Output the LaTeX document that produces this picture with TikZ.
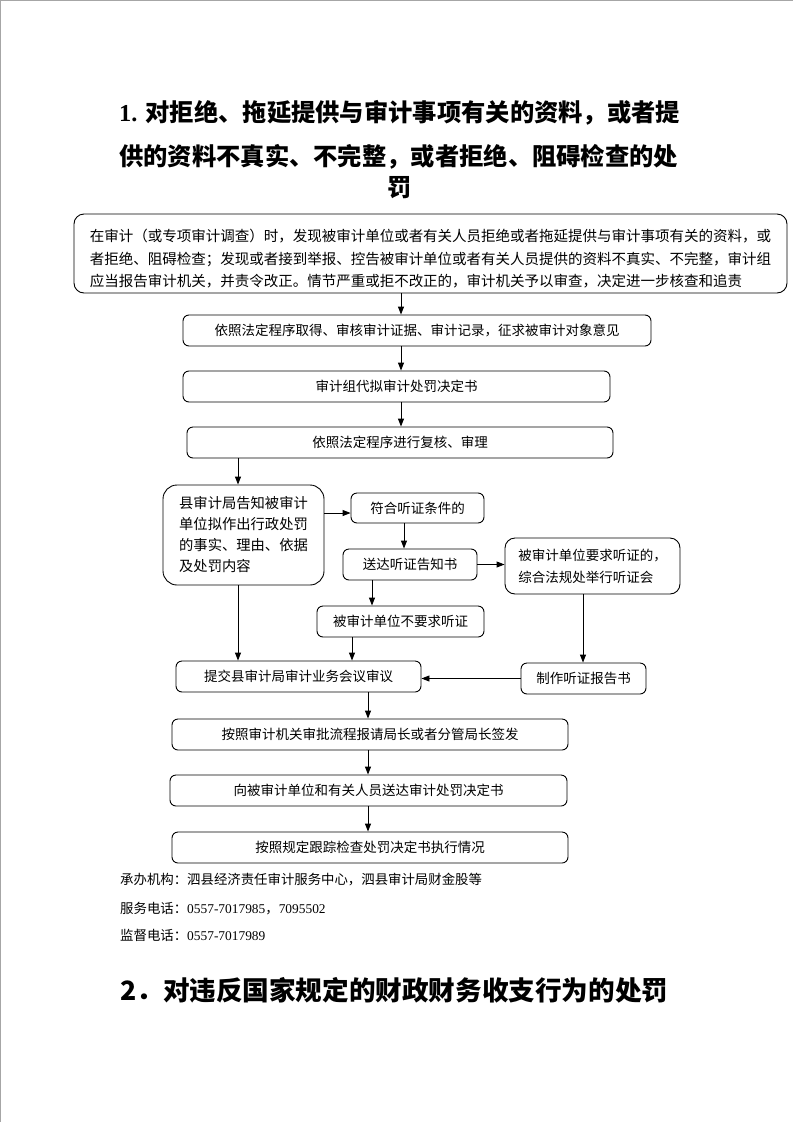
\documentclass[tikz,border=0pt]{standalone}
\usepackage{fontspec}
\setmainfont{Liberation Serif}
\newfontfamily\cjk{Noto Sans CJK SC}
\usetikzlibrary{arrows.meta}

\begin{document}
\begin{tikzpicture}[x=1pt,y=-1pt,
        box/.style={draw, line width=0.9pt, rounded corners=6pt, inner sep=0pt,
            font=\cjk\fontsize{13.5}{16}\selectfont},
        boxsize/.style 2 args={minimum width=#1pt, minimum height=#2pt},
        arr/.style={-{Triangle[length=8pt,width=6pt]}, line width=0.9pt},
        title/.style={anchor=west, inner sep=0pt, font=\fontsize{24.3}{28}\selectfont\bfseries},
        note/.style={anchor=west, inner sep=0pt, font=\fontsize{13.4}{16}\selectfont}]
    \useasboundingbox (0,0) rectangle (793,1122);
    \draw[gray!70, line width=1.2pt] (0.6,1122) -- (0.6,0.6) -- (793,0.6);

    % title
    \node[title] (t1) at (119,113) {1. {\cjk 对拒绝、拖延提供与审计事项有关的资料，或者提}};
    \node[title] (t2) at (119,157) {\cjk 供的资料不真实、不完整，或者拒绝、阻碍检查的处};
    \node[title, anchor=center] (t3) at (400,188) {\cjk 罚};

    % main column
    \node[box, rounded corners=10pt, boxsize={713}{79}] (b1) at (430.5,253.5) {};
    \node[inner sep=0pt, align=left, font=\cjk\fontsize{14.5}{22.5}\selectfont] (b1t) at (430.5,259)
        {在审计（或专项审计调查）时，发现被审计单位或者有关人员拒绝或者拖延提供与审计事项有关的资料，或\\
         者拒绝、阻碍检查；发现或者接到举报、控告被审计单位或者有关人员提供的资料不真实、不完整，审计组\\
         应当报告审计机关，并责令改正。情节严重或拒不改正的，审计机关予以审查，决定进一步核查和追责};
    \node[box, boxsize={468}{31}] (b2) at (417,330.5) {依照法定程序取得、审核审计证据、审计记录，征求被审计对象意见};
    \node[box, boxsize={427}{31}] (b3) at (396.5,386.5) {审计组代拟审计处罚决定书};
    \node[box, boxsize={426}{31}] (b4) at (400,442.5) {依照法定程序进行复核、审理};

    % hearing branch
    \node[box, rounded corners=14pt, boxsize={161}{100}, align=left,
        font=\cjk\fontsize{14.3}{21}\selectfont] (b5) at (243.5,535)
        {县审计局告知被审计\\单位拟作出行政处罚\\的事实、理由、依据\\及处罚内容};
    \node[box, boxsize={133}{30}] (b6) at (417.5,508) {符合听证条件的};
    \node[box, boxsize={134}{31}] (b7) at (410,564.5) {送达听证告知书};
    \node[box, rounded corners=10pt, boxsize={175}{56}, align=left,
        font=\cjk\fontsize{13.5}{22}\selectfont] (b8) at (592.5,566)
        {被审计单位要求听证的，\\综合法规处举行听证会};
    \node[box, boxsize={167}{31}] (b9) at (400.5,621.5) {被审计单位不要求听证};
    \node[box, boxsize={245}{31}] (b10) at (298.5,676.5) {提交县审计局审计业务会议审议};
    \node[box, boxsize={125}{31}] (b11) at (583.5,678.5) {制作听证报告书};

    % lower column
    \node[box, boxsize={396}{31}] (b12) at (370,734.5) {按照审计机关审批流程报请局长或者分管局长签发};
    \node[box, boxsize={397}{31}] (b13) at (368.5,790.5) {向被审计单位和有关人员送达审计处罚决定书};
    \node[box, boxsize={396}{31}] (b14) at (370,847.5) {按照规定跟踪检查处罚决定书执行情况};

    % connector columns
    \coordinate (xm) at (401,0);
    \coordinate (xl) at (238,0);
    \coordinate (xc) at (404,0);
    \coordinate (xn) at (372,0);
    \coordinate (xs) at (352,0);
    \coordinate (xr) at (583,0);
    \coordinate (xb) at (368,0);
    \coordinate (ya) at (0,513);

    \foreach \a/\b in {b1/b2,b2/b3,b3/b4}
        \draw[arr] (\a.south -| xm) -- (\b.north -| xm);
    \draw[arr] (b4.south -| xl) -- (b5.north -| xl);
    \draw[arr] (b5.south -| xl) -- (b10.north -| xl);
    \draw[arr] (b5.east |- ya) -- (b6.west |- ya);
    \draw[arr] (b6.south -| xc) -- (b7.north -| xc);
    \draw[arr] (b7.east) -- (b8.west |- b7.east);
    \draw[arr] (b7.south -| xn) -- (b9.north -| xn);
    \draw[arr] (b9.south -| xs) -- (b10.north -| xs);
    \draw[arr] (b8.south -| xr) -- (b11.north -| xr);
    \draw[arr] (b11.west) -- (b10.east |- b11.west);
    \foreach \a/\b in {b10/b12,b12/b13,b13/b14}
        \draw[arr] (\a.south -| xb) -- (\b.north -| xb);

    % footer
    \node[note] (f1) at (120,880) {\cjk 承办机构：泗县经济责任审计服务中心，泗县审计局财金股等};
    \node[note] (f2) at (120,909) {{\cjk 服务电话：}0557-7017985{\cjk ，}7095502};
    \node[note] (f3) at (120,935) {{\cjk 监督电话：}0557-7017989};

    \node[title, font=\fontsize{26.6}{30}\selectfont\bfseries] (h2) at (120,990) {\cjk 2．对违反国家规定的财政财务收支行为的处罚};
\end{tikzpicture}
\end{document}
